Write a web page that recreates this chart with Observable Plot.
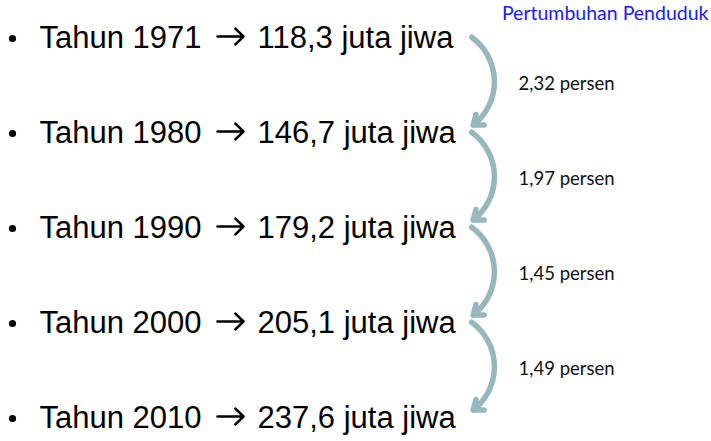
<!DOCTYPE html>
<html>
<head>
<meta charset="utf-8">
<script src="https://cdn.jsdelivr.net/npm/d3@7"></script>
<script src="https://cdn.jsdelivr.net/npm/@observablehq/plot@0.6"></script>
<style>
  html, body { margin: 0; padding: 0; background: #fff; }
  #chart { width: 711px; height: 441px; }
</style>
</head>
<body>
<div id="chart"></div>
<script>
const years = [1971, 1980, 1990, 2000, 2010];
const population = [118.3, 146.7, 179.2, 205.1, 237.6];
const growth = [2.32, 1.97, 1.45, 1.49];
const title = "Pertumbuhan Penduduk";

const fmt = (v, d) => v.toFixed(d).replace(".", ",");
const rows = years.map((y, i) => ({i, year: y, pop: population[i]}));
const steps = growth.map((g, i) => ({i, from: i, to: i + 1, mid: i + 0.5, g}));

const chart = Plot.plot({
  width: 711,
  height: 441,
  margin: 0,
  x: {domain: [0, 711], range: [0, 711], axis: null},
  y: {domain: [0, 4], range: [38, 418], axis: null},
  style: {background: "#fff"},
  marks: [
    Plot.dot(rows, {x: 12, y: "i", r: 3.6, fill: "#000", stroke: null}),
    Plot.text(rows, {
      x: 39, y: "i",
      text: d => `Tahun ${d.year}`,
      textAnchor: "start", fontSize: 31, fill: "#000",
      fontFamily: "Liberation Sans, Arial, sans-serif"
    }),
    Plot.arrow(rows, {
      x1: 190, x2: 243, y1: "i", y2: "i", dy: -2,
      insetStart: 27, stroke: "#000", strokeWidth: 2.6,
      headAngle: 88, headLength: 6.5
    }),
    Plot.text(rows, {
      x: 257, y: "i",
      text: d => `${fmt(d.pop, 1)} juta jiwa`,
      textAnchor: "start", fontSize: 31, fill: "#000",
      fontFamily: "Liberation Sans, Arial, sans-serif"
    }),
    Plot.arrow(steps, {
      x1: 467, x2: 466, y1: "from", y2: "to", dy: -4,
      bend: 60, stroke: "#96b8bc", strokeWidth: 5.5,
      headAngle: 75, headLength: 3, insetStart: 5, insetEnd: 8
    }),
    Plot.text(steps, {
      x: 518, y: "mid", dy: -2,
      text: d => `${fmt(d.g, 2)} persen`,
      textAnchor: "start", fontSize: 18.5, fill: "#111",
      fontFamily: "Lato, Open Sans, sans-serif"
    }),
    Plot.text([title], {
      frameAnchor: "top-right", lineAnchor: "top",
      dx: -3, dy: 6,
      text: d => d,
      textAnchor: "end", fontSize: 19.5, fill: "#1a1aff",
      fontFamily: "Lato, Open Sans, sans-serif"
    })
  ]
});
document.getElementById("chart").appendChild(chart);
</script>
</body>
</html>
